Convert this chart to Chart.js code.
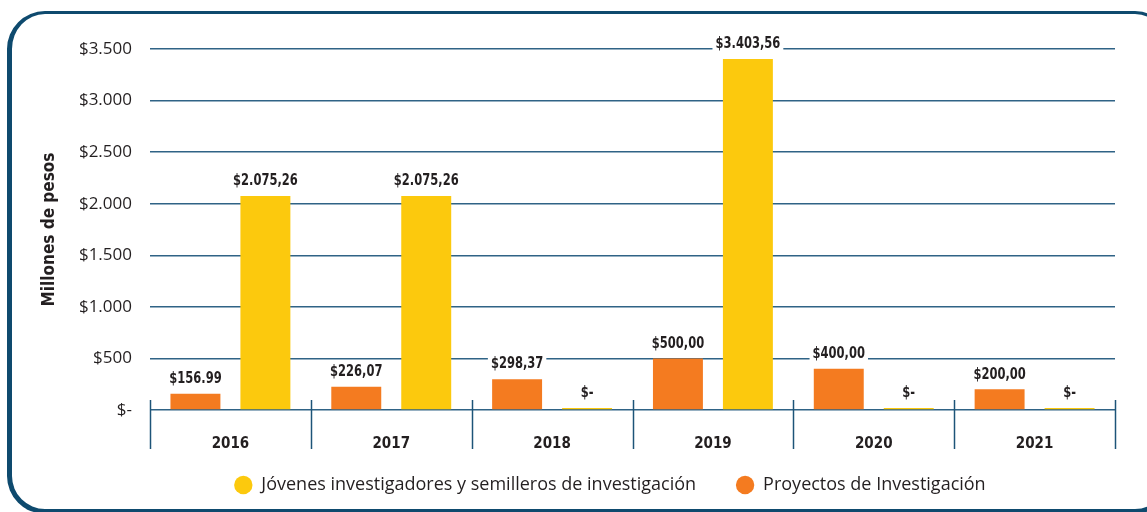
<!DOCTYPE html>
<html><head><meta charset="utf-8">
<script src="https://cdn.jsdelivr.net/npm/chart.js"></script>
<style>
html,body{margin:0;padding:0;background:#fff;overflow:hidden;width:1147px;height:512px;}
#frame{position:absolute;left:7px;top:11px;width:1166px;height:503px;border:solid #0e4a6e;border-width:3px 5px 5px 5px;border-radius:38px;box-sizing:border-box;}
#wrap{position:absolute;left:0;top:0;width:1147px;height:512px;}
</style></head><body>
<div id="frame"></div>
<div id="wrap"><canvas id="c"></canvas></div>
<script>
const categories = ['2016', '2017', '2018', '2019', '2020', '2021'];
const proyectos = [156.99, 226.07, 298.37, 500.00, 400.00, 200.00];
const jovenes = [2075.26, 2075.26, 0, 3403.56, 0, 0];
const proyectosLabels = ['$156.99', '$226,07', '$298,37', '$500,00', '$400,00', '$200,00'];
const jovenesLabels = ['$2.075,26', '$2.075,26', '$-', '$3.403,56', '$-', '$-'];
const yTickValues = [0, 500, 1000, 1500, 2000, 2500, 3000, 3500];
const yTickLabels = ['$-', '$500', '$1.000', '$1.500', '$2.000', '$2.500', '$3.000', '$3.500'];

const textColor = '#231f20';
const gridColor = '#2f6386';
const boldFont = '"DejaVu Sans Condensed", "DejaVu Sans", sans-serif';
const regFont = '"Open Sans", "Noto Sans", sans-serif';

const barLabelPlugin = {
  id: 'barLabels',
  afterDatasetsDraw(chart) {
    const ctx = chart.ctx;
    const sx = 0.8;
    ctx.save();
    ctx.font = 'bold 16px ' + boldFont;
    ctx.textAlign = 'center';
    ctx.textBaseline = 'middle';
    chart.data.datasets.forEach((ds, di) => {
      const meta = chart.getDatasetMeta(di);
      meta.data.forEach((bar, i) => {
        const txt = ds.valueLabels[i];
        const w = ctx.measureText(txt).width * sx;
        const y = bar.y - 15;
        ctx.fillStyle = '#ffffff';
        ctx.fillRect(bar.x - w / 2 - 3, y - 10, w + 6, 20);
        ctx.save();
        ctx.translate(bar.x, y);
        ctx.scale(sx, 1);
        ctx.fillStyle = textColor;
        ctx.fillText(txt, 0, 0);
        ctx.restore();
      });
    });
    ctx.restore();
  }
};

const dividerPlugin = {
  id: 'dividers',
  afterLayout(chart) {
    if (chart.legend) {
      chart.legend.top -= 34;
      chart.legend.bottom -= 34;
      chart.legend.left += 33;
      chart.legend.right += 33;
    }
  },
  afterDraw(chart) {
    const xs = chart.scales.x;
    const ys = chart.scales.y;
    const ctx = chart.ctx;
    const y0 = ys.getPixelForValue(0);
    const n = categories.length;
    const step = (xs.getPixelForValue(1) - xs.getPixelForValue(0));
    ctx.save();
    ctx.strokeStyle = '#1d5478';
    ctx.lineWidth = 1.5;
    for (let i = 0; i <= n; i++) {
      const x = Math.round(xs.getPixelForValue(0) - step / 2 + i * step) + 0.5;
      ctx.beginPath();
      ctx.moveTo(x, y0 - 10);
      ctx.lineTo(x, y0 + 39);
      ctx.stroke();
    }
    ctx.restore();
  }
};

new Chart(document.getElementById('c'), {
  type: 'bar',
  data: {
    labels: categories,
    datasets: [
      { label: 'Proyectos de Investigación', data: proyectos, valueLabels: proyectosLabels,
        backgroundColor: '#f47b20', borderWidth: 0, minBarLength: 2,
        categoryPercentage: 0.87, barPercentage: 0.714 },
      { label: 'Jóvenes investigadores y semilleros de investigación', data: jovenes, valueLabels: jovenesLabels,
        backgroundColor: '#fcc90d', borderWidth: 0, minBarLength: 2,
        categoryPercentage: 0.87, barPercentage: 0.714 }
    ]
  },
  options: {
    responsive: true,
    maintainAspectRatio: false,
    animation: false,
    devicePixelRatio: 1,
    layout: { padding: { left: 39, right: 32, top: 49, bottom: -26 } },
    plugins: {
      tooltip: { enabled: false },
      legend: {
        position: 'bottom',
        reverse: true,
        labels: {
          usePointStyle: true,
          pointStyle: 'circle',
          boxWidth: 18,
          boxHeight: 13,
          padding: 40,
          color: textColor,
          font: { family: regFont, size: 18 }
        }
      }
    },
    scales: {
      x: {
        grid: { display: false },
        border: { display: false },
        ticks: { color: textColor, padding: 17, font: { family: boldFont, size: 15, weight: 'bold' } }
      },
      y: {
        min: 0, max: 3500,
        afterFit(s) { s.width = 111; },
        afterBuildTicks(s) { s.ticks = yTickValues.map(v => ({ value: v })); },
        grid: { color: gridColor, lineWidth: 1.5, drawTicks: false },
        border: { display: false },
        title: { display: true, text: 'Millones de pesos', color: textColor, padding: { top: 0, bottom: 0 },
          font: { family: boldFont, size: 17, weight: 'bold' } },
        ticks: {
          color: textColor, padding: 18,
          font: { family: regFont, size: 17 },
          callback: (v) => yTickLabels[yTickValues.indexOf(v)]
        }
      }
    }
  },
  plugins: [barLabelPlugin, dividerPlugin]
});
</script>
</body></html>
